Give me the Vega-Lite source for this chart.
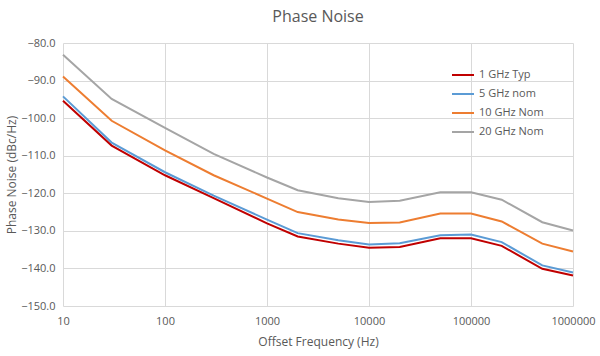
{
  "$schema": "https://vega.github.io/schema/vega-lite/v6.json",
  "width": 510,
  "height": 263,
  "autosize": "none",
  "padding": {"left": 63, "top": 43, "right": 27, "bottom": 50},
  "background": "white",
  "title": {"text": "Phase Noise", "fontSize": 16, "fontWeight": "normal", "color": "#595959", "font": "Open Sans", "offset": 12},
  "config": {
    "view": {"stroke": null},
    "axis": {"labelFont": "Open Sans", "titleFont": "Open Sans", "labelColor": "#595959", "titleColor": "#595959", "labelFontSize": 11, "titleFontSize": 12, "titleFontWeight": "normal", "gridColor": "#d9d9d9", "gridWidth": 1, "ticks": false, "domain": false}
  },
  "data": {"values": [
    {"f": 10, "v": -95.4, "s": "1 GHz Typ"},
    {"f": 30, "v": -107.3, "s": "1 GHz Typ"},
    {"f": 100, "v": -115.2, "s": "1 GHz Typ"},
    {"f": 300, "v": -121.3, "s": "1 GHz Typ"},
    {"f": 1000, "v": -128.0, "s": "1 GHz Typ"},
    {"f": 2000, "v": -131.5, "s": "1 GHz Typ"},
    {"f": 5000, "v": -133.4, "s": "1 GHz Typ"},
    {"f": 10000, "v": -134.5, "s": "1 GHz Typ"},
    {"f": 20000, "v": -134.3, "s": "1 GHz Typ"},
    {"f": 50000, "v": -132.0, "s": "1 GHz Typ"},
    {"f": 100000, "v": -132.0, "s": "1 GHz Typ"},
    {"f": 200000, "v": -134.0, "s": "1 GHz Typ"},
    {"f": 500000, "v": -140.1, "s": "1 GHz Typ"},
    {"f": 1000000, "v": -141.9, "s": "1 GHz Typ"},
    {"f": 10, "v": -94.2, "s": "5 GHz nom"},
    {"f": 30, "v": -106.5, "s": "5 GHz nom"},
    {"f": 100, "v": -114.4, "s": "5 GHz nom"},
    {"f": 300, "v": -120.6, "s": "5 GHz nom"},
    {"f": 1000, "v": -127.0, "s": "5 GHz nom"},
    {"f": 2000, "v": -130.6, "s": "5 GHz nom"},
    {"f": 5000, "v": -132.5, "s": "5 GHz nom"},
    {"f": 10000, "v": -133.6, "s": "5 GHz nom"},
    {"f": 20000, "v": -133.3, "s": "5 GHz nom"},
    {"f": 50000, "v": -131.2, "s": "5 GHz nom"},
    {"f": 100000, "v": -131.0, "s": "5 GHz nom"},
    {"f": 200000, "v": -133.0, "s": "5 GHz nom"},
    {"f": 500000, "v": -139.2, "s": "5 GHz nom"},
    {"f": 1000000, "v": -141.1, "s": "5 GHz nom"},
    {"f": 10, "v": -88.9, "s": "10 GHz Nom"},
    {"f": 30, "v": -100.7, "s": "10 GHz Nom"},
    {"f": 100, "v": -108.6, "s": "10 GHz Nom"},
    {"f": 300, "v": -115.2, "s": "10 GHz Nom"},
    {"f": 1000, "v": -121.4, "s": "10 GHz Nom"},
    {"f": 2000, "v": -125.0, "s": "10 GHz Nom"},
    {"f": 5000, "v": -127.0, "s": "10 GHz Nom"},
    {"f": 10000, "v": -127.9, "s": "10 GHz Nom"},
    {"f": 20000, "v": -127.8, "s": "10 GHz Nom"},
    {"f": 50000, "v": -125.4, "s": "10 GHz Nom"},
    {"f": 100000, "v": -125.4, "s": "10 GHz Nom"},
    {"f": 200000, "v": -127.5, "s": "10 GHz Nom"},
    {"f": 500000, "v": -133.4, "s": "10 GHz Nom"},
    {"f": 1000000, "v": -135.5, "s": "10 GHz Nom"},
    {"f": 10, "v": -83.1, "s": "20 GHz Nom"},
    {"f": 30, "v": -94.9, "s": "20 GHz Nom"},
    {"f": 100, "v": -102.6, "s": "20 GHz Nom"},
    {"f": 300, "v": -109.5, "s": "20 GHz Nom"},
    {"f": 1000, "v": -115.8, "s": "20 GHz Nom"},
    {"f": 2000, "v": -119.2, "s": "20 GHz Nom"},
    {"f": 5000, "v": -121.3, "s": "20 GHz Nom"},
    {"f": 10000, "v": -122.3, "s": "20 GHz Nom"},
    {"f": 20000, "v": -122.0, "s": "20 GHz Nom"},
    {"f": 50000, "v": -119.7, "s": "20 GHz Nom"},
    {"f": 100000, "v": -119.7, "s": "20 GHz Nom"},
    {"f": 200000, "v": -121.7, "s": "20 GHz Nom"},
    {"f": 500000, "v": -127.7, "s": "20 GHz Nom"},
    {"f": 1000000, "v": -129.9, "s": "20 GHz Nom"}
  ]},
  "mark": {"type": "line", "strokeWidth": 2},
  "encoding": {
    "x": {"field": "f", "type": "quantitative", "scale": {"type": "log", "domain": [10, 1000000], "nice": false},
      "axis": {"title": "Offset Frequency (Hz)", "values": [10, 100, 1000, 10000, 100000, 1000000], "format": "d", "labelPadding": 9, "titlePadding": 10, "labelFlush": false}},
    "y": {"field": "v", "type": "quantitative", "scale": {"domain": [-150, -80], "nice": false, "zero": false},
      "axis": {"title": "Phase Noise (dBc/Hz)", "values": [-150, -140, -130, -120, -110, -100, -90, -80], "format": ".1f", "labelPadding": 8, "titlePadding": 2}},
    "color": {"field": "s", "type": "nominal", "scale": {"domain": ["1 GHz Typ", "5 GHz nom", "10 GHz Nom", "20 GHz Nom"], "range": ["#c00000", "#5b9bd5", "#ed7d31", "#a5a5a5"]},
      "legend": {"title": null, "orient": "none", "legendX": 388, "legendY": 20, "symbolType": "stroke", "symbolSize": 484, "symbolStrokeWidth": 2, "labelFont": "Open Sans", "labelFontSize": 11, "labelColor": "#595959", "rowPadding": 2, "labelOffset": 4}}
  }
}
